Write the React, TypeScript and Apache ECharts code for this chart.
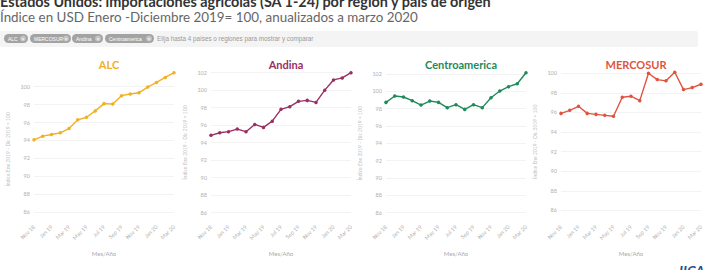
import React, { useEffect, useRef } from "react";
import * as echarts from "echarts";

const months = ["Nov 18", "Dec 18", "Jan 19", "Feb 19", "Mar 19", "Apr 19", "May 19", "Jun 19", "Jul 19", "Aug 19", "Sep 19", "Oct 19", "Nov 19", "Dec 19", "Jan 20", "Feb 20", "Mar 20"];
const alc = [94.07, 94.48, 94.67, 94.85, 95.33, 96.3, 96.59, 97.3, 98.11, 98.07, 99.0, 99.19, 99.33, 99.96, 100.48, 101.04, 101.56];
const andina = [94.83, 95.13, 95.25, 95.55, 95.25, 96.08, 95.74, 96.45, 97.81, 98.11, 98.72, 98.83, 98.6, 100.0, 101.17, 101.4, 102.0];
const centroamerica = [98.73, 99.46, 99.35, 98.92, 98.42, 98.88, 98.73, 98.12, 98.46, 97.92, 98.46, 98.12, 99.27, 100.04, 100.54, 100.88, 102.15];
const mercosur = [95.9, 96.21, 96.62, 95.9, 95.8, 95.7, 95.6, 97.54, 97.65, 97.2, 100.0, 99.35, 99.22, 100.1, 98.33, 98.53, 98.87];
const panelNames = ["ALC", "Andina", "Centroamerica", "MERCOSUR"];
const filterPills = ["ALC", "MERCOSUR", "Andina", "Centroamerica"];

const mainTitle = "Estados Unidos: importaciones agrícolas (SA 1-24) por región y país de origen";
const subTitle = "Índice en USD Enero -Diciembre 2019= 100, anualizados a marzo 2020";
const placeholder = "Elija hasta 4 países o regiones para mostrar y comparar";
const yName = "Índice Ene 2019 - Dic 2019 = 100";
const xName = "Mes/Año";

const FONT = "Lato, 'Open Sans', sans-serif";

const panels = [
  { data: alc, color: "#f2b023", left: 34, top: 68.8, max: 102 },
  { data: andina, color: "#9a2f64", left: 211, top: 55.2, max: 104 },
  { data: centroamerica, color: "#1f8a5b", left: 386, top: 56.7, max: 104 },
  { data: mercosur, color: "#e0533f", left: 561, top: 53.6, max: 102 },
];
const pillLayout = [
  { x: 4, w: 24 },
  { x: 30, w: 41 },
  { x: 72, w: 31 },
  { x: 105, w: 49 },
];

export default function App() {
  const ref = useRef<HTMLDivElement>(null);
  useEffect(() => {
    if (!ref.current) return;
    const chart = echarts.init(ref.current, null, { renderer: "svg" });
    const grids: any[] = [];
    const xAxes: any[] = [];
    const yAxes: any[] = [];
    const series: any[] = [];
    const titles: any[] = [];
    panels.forEach((p, i) => {
      grids.push({ left: p.left, width: 140, top: p.top, bottom: 40 });
      xAxes.push({
        type: "category",
        gridIndex: i,
        data: months,
        boundaryGap: false,
        offset: -9,
        axisLine: { show: false },
        axisTick: { show: false },
        axisLabel: { interval: 1, rotate: 45, fontSize: 5.5, color: "#b0b0b0", margin: 5, fontFamily: FONT },
        name: xName,
        nameLocation: "middle",
        nameGap: 29,
        nameTextStyle: { fontSize: 6, color: "#aaa", fontFamily: FONT },
      });
      yAxes.push({
        type: "value",
        gridIndex: i,
        min: 84,
        max: p.max,
        interval: 2,
        axisLine: { show: false },
        axisTick: { show: false },
        axisLabel: { fontSize: 5.5, color: "#b0b0b0", margin: 4, showMinLabel: false, showMaxLabel: false, fontFamily: FONT },
        splitLine: { show: true, showMinLine: false, showMaxLine: false, lineStyle: { color: "#f0f0f0", width: 0.8 } },
        name: yName,
        nameLocation: "middle",
        nameGap: 24,
        nameTextStyle: { fontSize: 5, color: "#c0c0c0", fontFamily: FONT },
      });
      series.push({
        type: "line",
        xAxisIndex: i,
        yAxisIndex: i,
        data: p.data,
        symbol: "circle",
        symbolSize: 3.5,
        lineStyle: { color: p.color, width: 1.4 },
        itemStyle: { color: p.color },
      });
      titles.push({
        text: panelNames[i],
        left: p.left + 70,
        top: 54,
        textAlign: "center",
        textStyle: { fontSize: 11, fontWeight: "bold", color: p.color, fontFamily: FONT },
      });
    });

    const graphic: any[] = [
      { type: "text", x: 0, y: 1.5, style: { text: mainTitle, fontSize: 14.4, fontWeight: "bold", fill: "#333", fontFamily: FONT, verticalAlign: "middle" } },
      { type: "text", x: 0, y: 17, style: { text: subTitle, fontSize: 13.4, fill: "#666", fontFamily: FONT, verticalAlign: "middle" } },
      { type: "rect", shape: { x: 0, y: 31, width: 698, height: 16, r: 2 }, style: { fill: "#f4f4f4" } },
      { type: "text", x: 157, y: 38.5, style: { text: placeholder, fontSize: 6.3, fill: "#999", fontFamily: "'Liberation Sans', sans-serif", verticalAlign: "middle" } },
      { type: "text", x: 679, y: 263, style: { text: "IICA", fontSize: 14, fontWeight: "bold", fontStyle: "italic", fill: "#1d4f91", fontFamily: FONT } },
    ];
    filterPills.forEach((t, i) => {
      const l = pillLayout[i];
      graphic.push({ type: "rect", shape: { x: l.x, y: 34, width: l.w, height: 9, r: 4.5 }, style: { fill: "#a3a3a3" } });
      graphic.push({ type: "text", x: l.x + 4, y: 38.5, style: { text: t, fontSize: 5, fill: "#fff", fontFamily: "'Liberation Sans', sans-serif", verticalAlign: "middle" } });
      graphic.push({ type: "circle", shape: { cx: l.x + l.w - 5, cy: 38.5, r: 3 }, style: { fill: "#c4c4c4" } });
      graphic.push({ type: "text", x: l.x + l.w - 5, y: 38.5, style: { text: "×", fontSize: 5, fill: "#fff", align: "center", verticalAlign: "middle", fontFamily: "'Liberation Sans', sans-serif" } });
    });

    chart.setOption({
      animation: false,
      backgroundColor: "#ffffff",
      title: titles,
      grid: grids,
      xAxis: xAxes,
      yAxis: yAxes,
      series,
      graphic,
    });
    return () => chart.dispose();
  }, []);
  return <div ref={ref} style={{ position: "fixed", left: 0, top: 0, width: 708, height: 270 }} />;
}
